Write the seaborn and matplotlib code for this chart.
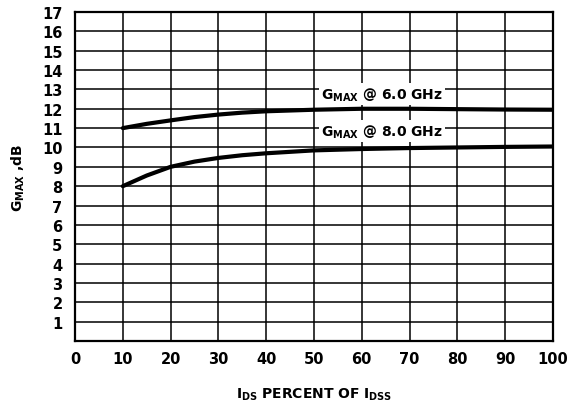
import matplotlib
matplotlib.use("Agg")
import matplotlib.pyplot as plt
import seaborn as sns
import pandas as pd

# Data
ids_percent = [10, 15, 20, 25, 30, 35, 40, 50, 60, 70, 80, 90, 100]
gmax_6ghz = [11.0, 11.22, 11.4, 11.57, 11.7, 11.8, 11.87, 11.95, 12.0, 12.0, 11.98, 11.96, 11.95]
gmax_8ghz = [8.0, 8.55, 9.0, 9.27, 9.46, 9.6, 9.7, 9.85, 9.92, 9.97, 10.0, 10.03, 10.05]
series_names = ["6.0 GHz", "8.0 GHz"]
x_ticks = [0, 10, 20, 30, 40, 50, 60, 70, 80, 90, 100]
y_ticks = list(range(0, 18))

sns.set_theme(style="white")
plt.rcParams["font.family"] = ["DejaVu Sans"]
plt.rcParams["mathtext.fontset"] = "custom"
plt.rcParams["mathtext.rm"] = "DejaVu Sans:bold"
plt.rcParams["mathtext.bf"] = "DejaVu Sans:bold"
plt.rcParams["mathtext.it"] = "DejaVu Sans:bold"
for k in ["text.color", "axes.labelcolor", "xtick.color", "ytick.color", "xtick.labelcolor", "ytick.labelcolor"]:
    plt.rcParams[k] = "black"

df = pd.DataFrame({
    "x": ids_percent * 2,
    "y": gmax_6ghz + gmax_8ghz,
    "series": [series_names[0]] * len(ids_percent) + [series_names[1]] * len(ids_percent),
})

fig = plt.figure(figsize=(5.74, 4.06), dpi=100)
ax = fig.add_axes([0.1307, 0.1576, 0.9634 - 0.1307, 0.968 - 0.1576])

sns.lineplot(data=df, x="x", y="y", hue="series", palette=["black", "black"],
             linewidth=3.0, legend=False, ax=ax, zorder=3)

ax.set_xlim(0, 100)
ax.set_ylim(0, 17)
ax.set_xticks(x_ticks)
ax.set_xticklabels([str(v) for v in x_ticks], fontweight="bold", fontsize=10.5, color="black")
ax.set_yticks(y_ticks)
ax.set_yticklabels(["" if v == 0 else str(v) for v in y_ticks], fontweight="bold", fontsize=10.5, color="black")
ax.tick_params(axis="x", length=0, pad=7)
ax.tick_params(axis="y", length=0, pad=9)
ax.grid(True, color="black", linewidth=1.1)
ax.set_axisbelow(True)
for s in ax.spines.values():
    s.set_color("black")
    s.set_linewidth(1.6)

ax.set_xlabel(r"I$_{\mathrm{DS}}$ PERCENT OF I$_{\mathrm{DSS}}$", fontweight="bold", fontsize=10,
              labelpad=14, color="black")
ax.set_ylabel(r"G$_{\mathrm{MAX}}$ ,dB", fontweight="bold", fontsize=10, labelpad=11, color="black")

bbox = dict(facecolor="white", edgecolor="none", pad=1.5)
ax.text(51.5, 12.3, r"G$_{\mathrm{MAX}}$ @ 6.0 GHz", fontweight="bold", fontsize=10,
        ha="left", va="bottom", bbox=bbox, zorder=4, color="black")
ax.text(51.5, 10.4, r"G$_{\mathrm{MAX}}$ @ 8.0 GHz", fontweight="bold", fontsize=10,
        ha="left", va="bottom", bbox=bbox, zorder=4, color="black")

fig.savefig("out.png", dpi=100)
